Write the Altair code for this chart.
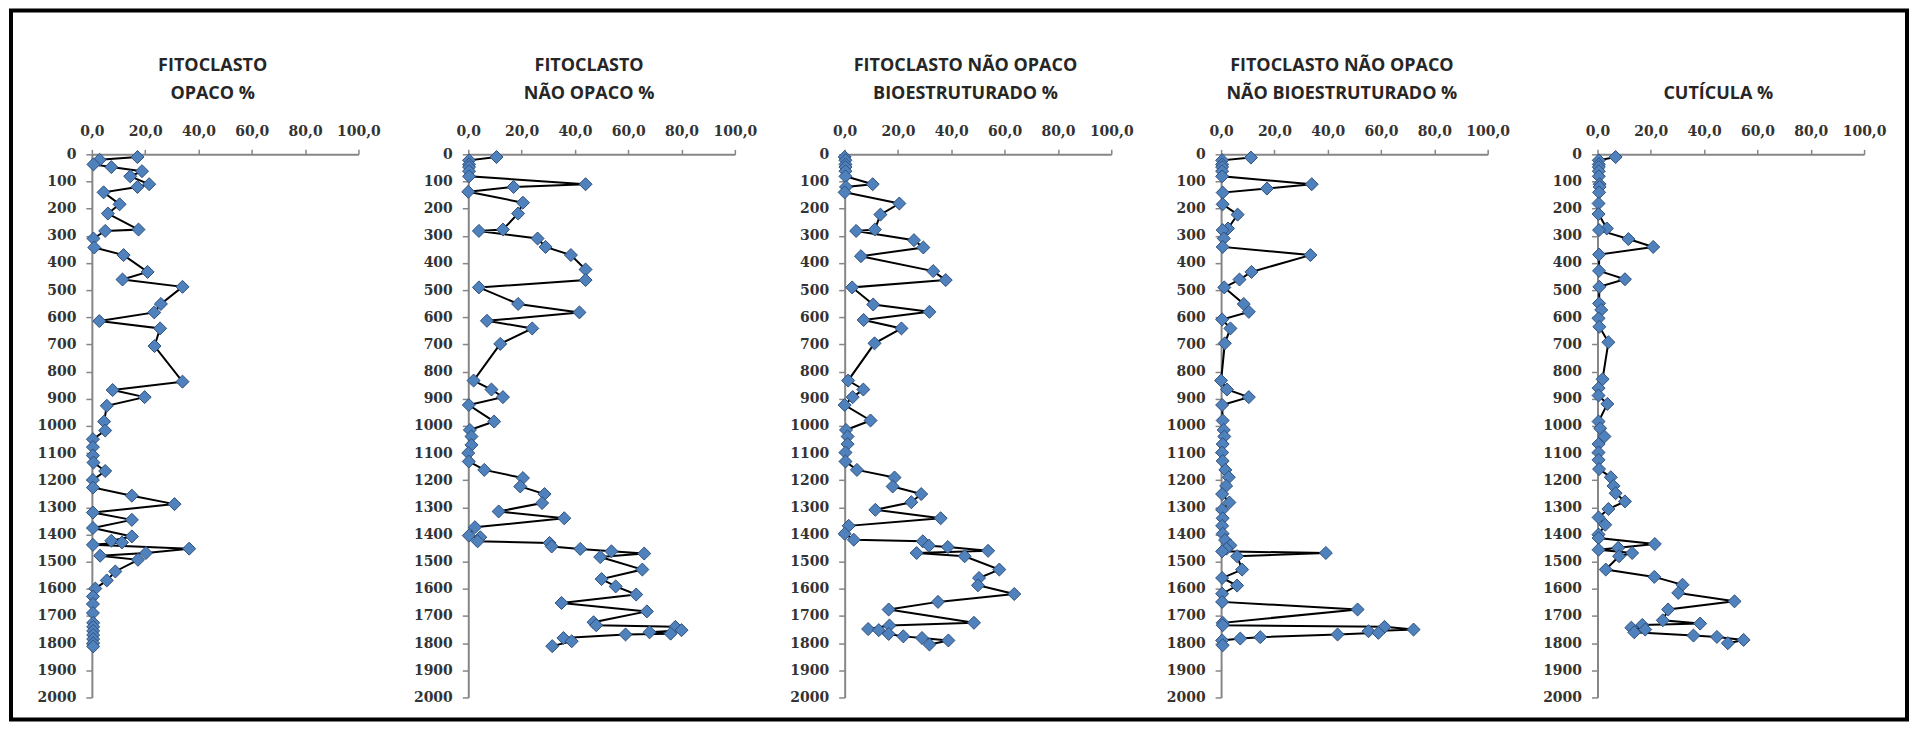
import altair as alt
import pandas as pd

# ---------------- data ----------------
titles = [
    "FITOCLASTO\nOPACO %",
    "FITOCLASTO\nNÃO OPACO %",
    "FITOCLASTO NÃO OPACO\nBIOESTRUTURADO %",
    "FITOCLASTO NÃO OPACO\nNÃO BIOESTRUTURADO %",
    "CUTÍCULA %",
]

x_ticks = [0, 20, 40, 60, 80, 100]
y_ticks = [0, 100, 200, 300, 400, 500, 600, 700, 800, 900, 1000, 1100, 1200,
           1300, 1400, 1500, 1600, 1700, 1800, 1900, 2000]

depth_opaco = [10, 20, 37, 47, 62, 81, 110, 120, 140, 184,
               218, 277, 282, 310, 343, 371, 433, 461, 488, 551,
               582, 614, 641, 706, 837, 868, 894, 926, 984, 1017,
               1049, 1078, 1109, 1135, 1166, 1199, 1227, 1257, 1288, 1319,
               1346, 1376, 1407, 1423, 1429, 1438, 1452, 1468, 1478, 1493,
               1536, 1569, 1599, 1628, 1656, 1689, 1725, 1740, 1755, 1770,
               1785, 1800, 1812]
val_opaco = [17.1, 2.9, 0.6, 7.3, 18.8, 14.4, 21.5, 17.1, 4.4, 10.4,
             6.0, 17.5, 5.0, 0.6, 0.9, 11.9, 20.9, 11.5, 34.0, 25.9,
             23.4, 2.8, 25.6, 23.5, 34.0, 7.8, 19.8, 5.6, 4.6, 5.0,
             0.4, 0.4, 0.4, 0.6, 5.0, 0.4, 0.4, 15.0, 31.0, 0.4,
             15.0, 0.4, 15.0, 7.3, 11.3, 0.4, 36.5, 20.3, 3.1, 17.3,
             8.8, 5.6, 1.3, 0.4, 0.4, 0.4, 0.5, 0.5, 0.5, 0.5,
             0.5, 0.5, 0.5]

depth_nao_opaco = [10, 22, 37, 47, 62, 81, 110, 120, 138, 178,
                   218, 277, 282, 310, 341, 371, 424, 463, 490, 551,
                   582, 613, 641, 698, 833, 866, 894, 923, 984, 1015,
                   1039, 1070, 1100, 1131, 1162, 1192, 1223, 1251, 1284, 1315,
                   1340, 1373, 1404, 1410, 1425, 1431, 1444, 1453, 1462, 1470,
                   1483, 1529, 1564, 1591, 1621, 1652, 1683, 1723, 1734, 1740,
                   1752, 1760, 1765, 1768, 1781, 1793, 1811]
val_nao_opaco = [10.6, 0.3, 0.3, 0.3, 0.3, 0.3, 44.0, 17.0, 0.0, 20.5,
                 18.7, 13.0, 4.0, 26.0, 29.0, 38.5, 44.0, 44.0, 4.0, 18.7,
                 41.7, 7.0, 24.0, 12.0, 2.0, 8.7, 13.0, 0.2, 9.7, 0.6,
                 1.2, 1.2, 0.0, 0.2, 6.0, 20.5, 19.5, 28.6, 27.7, 11.4,
                 36.0, 2.5, 0.2, 4.5, 3.5, 30.5, 31.3, 42.0, 53.7, 66.0,
                 49.5, 65.3, 50.0, 55.3, 63.0, 35.0, 67.0, 47.0, 48.0, 77.7,
                 80.0, 68.0, 75.9, 59.0, 35.7, 38.8, 31.5]

depth_bio = [10, 22, 37, 47, 62, 81, 110, 120, 140, 181,
             222, 277, 282, 316, 343, 375, 430, 463, 490, 553,
             580, 610, 641, 696, 833, 866, 894, 923, 980, 1015,
             1039, 1067, 1098, 1131, 1162, 1190, 1223, 1251, 1281, 1309,
             1340, 1368, 1397, 1419, 1425, 1441, 1446, 1460, 1468, 1480,
             1529, 1560, 1587, 1619, 1648, 1676, 1725, 1735, 1748, 1752,
             1766, 1775, 1781, 1790, 1805]
val_bio = [0.0, 0.3, 0.3, 0.3, 0.3, 0.3, 10.5, 0.5, 0.0, 20.5,
           13.4, 11.3, 4.3, 26.0, 29.5, 6.1, 33.2, 37.9, 2.8, 10.7,
           31.8, 7.1, 21.3, 11.2, 1.3, 7.0, 3.0, 0.0, 9.7, 0.5,
           1.1, 1.1, 0.3, 0.3, 4.6, 18.7, 18.0, 28.7, 25.0, 11.5,
           36.0, 1.5, 0.0, 3.4, 29.3, 31.6, 38.7, 53.8, 27.0, 45.0,
           58.0, 50.4, 50.0, 63.6, 35.0, 16.5, 48.5, 16.8, 8.8, 12.8,
           16.5, 22.0, 29.0, 38.9, 31.8]

depth_nao_bio = [12, 22, 37, 47, 62, 81, 110, 126, 141, 184,
                 222, 273, 279, 310, 341, 371, 433, 461, 490, 551,
                 580, 608, 641, 696, 833, 866, 894, 923, 980, 1015,
                 1039, 1067, 1098, 1129, 1162, 1189, 1221, 1251, 1282, 1309,
                 1340, 1368, 1397, 1420, 1440, 1452, 1462, 1468, 1480, 1529,
                 1560, 1588, 1618, 1648, 1676, 1725, 1734, 1740, 1750, 1756,
                 1762, 1768, 1778, 1783, 1790, 1808]
val_nao_bio = [11.2, 0.4, 0.4, 0.4, 0.4, 0.4, 34.0, 17.2, 0.6, 0.6,
               6.2, 2.6, 0.6, 1.0, 0.6, 33.5, 11.4, 6.9, 1.2, 8.5,
               10.4, 0.4, 3.5, 1.4, 0.0, 2.2, 10.4, 0.4, 0.6, 1.0,
               1.2, 0.6, 0.4, 0.6, 1.6, 2.9, 1.9, 0.4, 3.1, 0.4,
               0.6, 0.4, 0.6, 1.5, 3.5, 2.0, 0.4, 39.3, 6.0, 7.9,
               0.4, 6.0, 0.4, 0.4, 51.2, 0.6, 0.6, 61.3, 72.2, 55.3,
               59.0, 43.7, 14.7, 7.2, 0.4, 0.6]

depth_cuticula = [10, 22, 37, 47, 62, 81, 110, 120, 140, 181,
                  220, 273, 279, 312, 341, 369, 429, 460, 488, 549,
                  573, 604, 635, 692, 828, 861, 888, 919, 984, 1009,
                  1039, 1067, 1098, 1125, 1159, 1189, 1221, 1248, 1278, 1306,
                  1337, 1364, 1400, 1413, 1435, 1449, 1456, 1468, 1480, 1529,
                  1556, 1585, 1615, 1646, 1676, 1716, 1728, 1733, 1743, 1750,
                  1760, 1772, 1777, 1788, 1800]
val_cuticula = [6.8, 0.5, 0.5, 0.5, 0.5, 0.5, 0.8, 0.8, 0.6, 0.4,
                0.4, 3.5, 0.6, 11.6, 20.9, 0.6, 0.6, 10.3, 0.7, 0.6,
                1.4, 0.4, 0.7, 4.1, 1.9, 0.4, 0.4, 3.7, 0.4, 1.0,
                2.6, 0.4, 0.4, 0.4, 0.6, 5.0, 6.0, 6.8, 10.3, 4.1,
                0.4, 2.9, 0.4, 0.4, 21.5, 7.8, 0.4, 13.0, 8.1, 3.1,
                21.3, 31.9, 30.3, 51.4, 26.5, 24.5, 38.5, 16.8, 12.7, 17.9,
                13.8, 36.0, 44.8, 54.8, 48.9]

series = [
    (depth_opaco, val_opaco),
    (depth_nao_opaco, val_nao_opaco),
    (depth_bio, val_bio),
    (depth_nao_bio, val_nao_bio),
    (depth_cuticula, val_cuticula),
]

# ---------------- styling ----------------
PANEL_W = 267
PANEL_H = 544
GAP = 110
AXIS_GREY = "#868686"
LABEL_FONT = "DejaVu Serif"
TITLE_FONT = "Open Sans"
TITLE_LINE = 28


def panel(depths, values, title_text, with_frame=False):
    df = pd.DataFrame({"depth": depths, "value": values, "i": list(range(len(depths)))})
    x = alt.X("value:Q",
              scale=alt.Scale(domain=[0, 100], nice=False, zero=False),
              axis=alt.Axis(orient="top", values=x_ticks, title=None, grid=False,
                            labelExpr="replace(format(datum.value, '.1f'), '.', ',')",
                            labelFont=LABEL_FONT, labelFontSize=14, labelFontWeight="bold",
                            labelColor="#333333", labelPadding=11, labelFlush=False,
                            domainColor=AXIS_GREY, domainWidth=2,
                            tickColor=AXIS_GREY, tickWidth=1.5, tickSize=5))
    y = alt.Y("depth:Q",
              scale=alt.Scale(domain=[0, 2000], nice=False, zero=False, reverse=True),
              axis=alt.Axis(values=y_ticks, title=None, grid=False, format="d",
                            labelFont=LABEL_FONT, labelFontSize=14, labelFontWeight="bold",
                            labelColor="#333333", labelPadding=10, labelFlush=False,
                            domainColor=AXIS_GREY, domainWidth=2,
                            tickColor=AXIS_GREY, tickWidth=1.5, tickSize=6))
    base = alt.Chart(df)
    line = base.mark_line(color="black", strokeWidth=2).encode(x=x, y=y, order="i:Q")
    pts = base.mark_point(shape="diamond", filled=True, fill="#4F81BD", stroke="#2F4F7A",
                          strokeWidth=1, size=170, opacity=1).encode(x=x, y=y)

    n_lines = title_text.count("\n") + 1
    title_df = pd.DataFrame({"t": [title_text]})
    ttl = alt.Chart(title_df).mark_text(
        font=TITLE_FONT, fontSize=18, fontWeight="bold", color="#262626",
        align="center", baseline="alphabetic", lineBreak="\n", lineHeight=TITLE_LINE
    ).encode(text="t:N", x=alt.value(121), y=alt.value(-55 - TITLE_LINE * (n_lines - 1)))

    layers = [line, pts, ttl]
    if with_frame:
        frame_df = pd.DataFrame({"k": [0]})
        frame = alt.Chart(frame_df).mark_rect(
            fillOpacity=0, stroke="black", strokeWidth=4
        ).encode(x=alt.value(-81), x2=alt.value(1818), y=alt.value(-144), y2=alt.value(566))
        layers.append(frame)
    return alt.layer(*layers).properties(width=PANEL_W, height=PANEL_H)


panels = [panel(d, v, t, with_frame=(k == 0))
          for k, ((d, v), t) in enumerate(zip(series, titles))]

chart = alt.hconcat(*panels, spacing=GAP, bounds="flush").properties(
    padding={"left": 1, "top": 0, "right": 0, "bottom": 0},
    background="white",
).configure_view(stroke="transparent", strokeWidth=0)

chart.save("out.html", embed_options={"renderer": "svg", "actions": False})
